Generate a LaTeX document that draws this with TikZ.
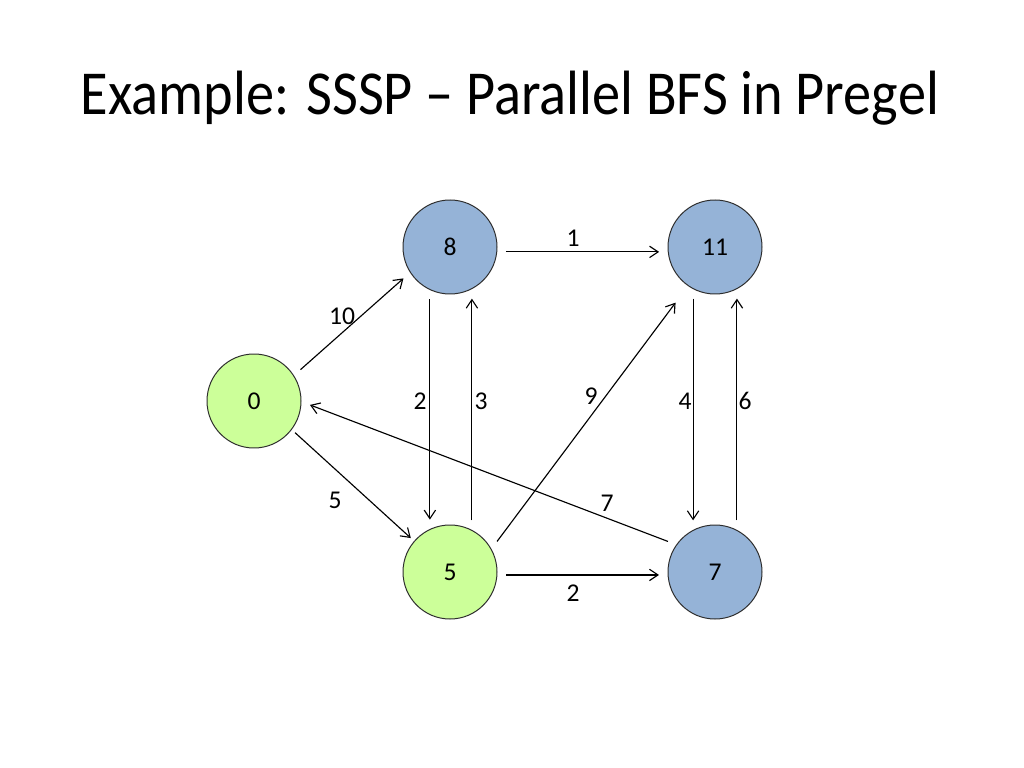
\documentclass[tikz,border=0pt]{standalone}
\usepackage{fontspec}
\setmainfont{Carlito}
\usetikzlibrary{arrows.meta}
\definecolor{vgreen}{HTML}{CCFF99}
\definecolor{vblue}{HTML}{95B3D7}
\definecolor{vborder}{HTML}{2E2E2E}
\tikzset{
  vertex/.style={circle, draw=vborder, line width=0.7pt, minimum size=94*0.703125pt, inner sep=0pt, outer sep=6.4pt, font=\fontsize{18}{20}\selectfont},
  greenv/.style={vertex, fill=vgreen},
  bluev/.style={vertex, fill=vblue},
  edge/.style={line width=0.8pt, -{Straight Barb[length=6pt,width=8pt]}},
  wlabel/.style={font=\fontsize{18}{20}\selectfont, inner sep=0pt}
}
\begin{document}
\begin{tikzpicture}[x=0.703125pt, y=-0.703125pt]
\useasboundingbox (0,0) rectangle (1024,768);
\fill[white] (0,0) rectangle (1024,768);
\node[anchor=base, font=\fontsize{44}{50}\selectfont, inner sep=0pt] (title) at (510,115) {\scalebox{0.9}[1]{Example: SSSP -- Parallel BFS in Pregel}};

\node[greenv] (n0) at (254,401) {0};
\node[bluev] (n8) at (450,247) {8};
\node[bluev] (n11) at (715,247) {11};
\node[greenv] (n5) at (450,572) {5};
\node[bluev] (n7) at (715,572) {7};

\draw[edge] (n0.34) -- (n8.214);
\draw[edge, shorten <=-3pt, shorten >=-3pt] (n0.322) -- (n5.139);
\draw[edge] (n8.355) -- (n11.185);
\draw[edge] (n5.357) -- (n7.183);
\draw[edge] (n8.249) -- (n5.111);
\draw[edge] (n5.67) -- (n8.293);
\draw[edge] (n11.247) -- (n7.113);
\draw[edge] (n7.67) -- (n11.293);
\draw[edge, shorten >=8.5pt] (n5.33) -- (n11.235);
\draw[edge] (n7.147) -- (n0.356);

\node[wlabel] (l10) at (342,316) {10};
\node[wlabel] (l5) at (335,500) {5};
\node[wlabel] (l1) at (573,238) {1};
\node[wlabel] (l2b) at (573,593) {2};
\node[wlabel] (l2) at (420,401) {2};
\node[wlabel] (l3) at (481,401) {3};
\node[wlabel] (l9) at (591,396) {9};
\node[wlabel] (l4) at (685,401) {4};
\node[wlabel] (l6) at (745,401) {6};
\node[wlabel] (l7) at (607,503) {7};
\end{tikzpicture}
\end{document}
